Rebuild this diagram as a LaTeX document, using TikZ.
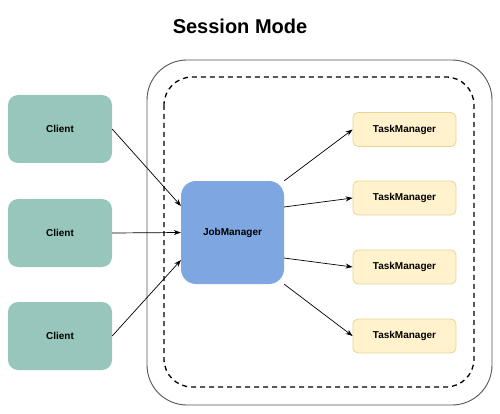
\documentclass[tikz,border=0pt]{standalone}
\usepackage{fontspec}
\setmainfont{Liberation Sans}
\usetikzlibrary{arrows.meta}
\definecolor{clientfill}{HTML}{97C6BC}
\definecolor{jmfill}{HTML}{7EA6E0}
\definecolor{tmfill}{HTML}{FFF2CC}
\definecolor{tmdraw}{HTML}{E8D594}
\definecolor{framegray}{HTML}{555555}
\tikzset{
  clientbox/.style={fill=clientfill, draw=none, rounded corners=10pt, minimum width=104pt, minimum height=68pt, font=\bfseries\fontsize{10}{12}\selectfont, inner sep=0pt},
  jmbox/.style={fill=jmfill, draw=none, rounded corners=15pt, minimum width=103pt, minimum height=103pt, font=\bfseries\fontsize{10}{12}\selectfont, inner sep=0pt},
  tmbox/.style={fill=tmfill, draw=tmdraw, line width=0.8pt, rounded corners=5pt, minimum width=103pt, minimum height=34pt, font=\bfseries\fontsize{10}{12}\selectfont, inner sep=0pt},
  conn/.style={-{Stealth[length=7pt,width=5pt]}, line width=0.7pt, black},
}
\begin{document}
\begin{tikzpicture}[x=1pt,y=-1pt]
\useasboundingbox (0,0) rectangle (500,414);
\node[font=\bfseries\fontsize{20}{24}\selectfont] (title) at (240,26) {Session Mode};
\draw[framegray, line width=0.9pt, rounded corners=40pt] (147,60) rectangle (492,405);
\draw[black, line width=1.3pt, dash pattern=on 5pt off 4pt, rounded corners=28pt] (164,77) rectangle (474,387);
\node[clientbox] (c1) at (60,129) {Client};
\node[clientbox] (c2) at (60,233) {Client};
\node[clientbox] (c3) at (60,336) {Client};
\node[jmbox] (jm) at (232.5,232.5) {JobManager};
\node[tmbox] (t1) at (404.5,129.5) {TaskManager};
\node[tmbox] (t2) at (404.5,198) {TaskManager};
\node[tmbox] (t3) at (404.5,267) {TaskManager};
\node[tmbox] (t4) at (404.5,336) {TaskManager};
\coordinate (jmin1) at (181,206);
\coordinate (jmin3) at (181,260);
\draw[conn] (c1.east) -- (jmin1);
\draw[conn] (c2.east) -- (jm.west);
\draw[conn] (c3.east) -- (jmin3);
\draw[conn] (jm.north east) -- (t1.west);
\draw[conn] (284,207) -- (t2.west);
\draw[conn] (284,258) -- (t3.west);
\draw[conn] (jm.south east) -- (t4.west);
\end{tikzpicture}
\end{document}
